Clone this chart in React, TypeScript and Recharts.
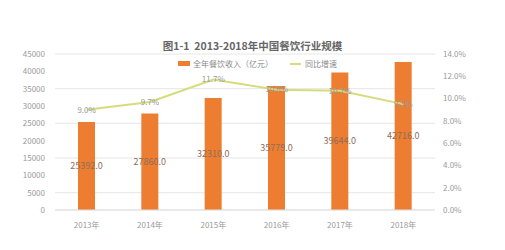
import React from "react";
import { Bar, CartesianGrid, ComposedChart, LabelList, Line, XAxis, YAxis } from "recharts";

const years = ["2013年", "2014年", "2015年", "2016年", "2017年", "2018年"];
const revenue = [25392.0, 27860.0, 32310.0, 35779.0, 39644.0, 42716.0];
const growth = [9.0, 9.7, 11.7, 10.8, 10.7, 9.5];
const leftTicks = [0, 5000, 10000, 15000, 20000, 25000, 30000, 35000, 40000, 45000];
const rightTicks = [0, 2, 4, 6, 8, 10, 12, 14];

const data = years.map((year, i) => ({ year, revenue: revenue[i], growth: growth[i] }));

const font = "'Noto Sans CJK SC', 'Noto Sans', sans-serif";
const tickStyle = { fontSize: 8, fill: "#9a9a9a", fontFamily: font };

export default function App() {
  return (
    <div style={{ position: "absolute", left: 0, top: 0, width: 505, height: 250, background: "#fff", fontFamily: font }}>
      <div style={{ position: "absolute", top: 38, left: 0, width: 505, textAlign: "center", fontSize: 10.5, fontWeight: 600, color: "#666" }}>
        图1-1&nbsp;&nbsp;2013-2018年中国餐饮行业规模
      </div>
      <div style={{ position: "absolute", top: 58, left: 178, display: "flex", alignItems: "center", fontSize: 8, color: "#8a8a8a", zIndex: 2 }}>
        <span style={{ display: "inline-block", width: 12, height: 5, background: "#ED7D31", marginRight: 3 }} />
        <span>全年餐饮收入（亿元）</span>
        <span style={{ display: "inline-block", width: 11, height: 2, background: "#d6dc7c", marginLeft: 17, marginRight: 4 }} />
        <span>同比增速</span>
      </div>
      <ComposedChart width={505} height={250} data={data} margin={{ top: 54, right: 0, bottom: 20, left: 0 }}>
        <CartesianGrid yAxisId="left" vertical={false} stroke="#e6e6e6" />
        <XAxis dataKey="year" axisLine={{ stroke: "#e0e0e0" }} tickLine={false} tick={tickStyle} height={20} tickMargin={6} />
        <YAxis yAxisId="left" width={55} domain={[0, 45000]} ticks={leftTicks} axisLine={false} tickLine={false} tick={tickStyle} tickMargin={4} />
        <YAxis
          yAxisId="right"
          orientation="right"
          width={70}
          domain={[0, 14]}
          ticks={rightTicks}
          axisLine={false}
          tickLine={false}
          tick={tickStyle}
          tickMargin={2}
          tickFormatter={(v: number) => `${v.toFixed(1)}%`}
        />
        <Bar yAxisId="left" dataKey="revenue" fill="#ED7D31" barSize={17} isAnimationActive={false}>
          <LabelList dataKey="revenue" position="center" fill="#8f6e58" fontSize={9} fontFamily={font} formatter={(v: number) => v.toFixed(1)} />
        </Bar>
        <Line yAxisId="right" dataKey="growth" stroke="#d6dc7c" strokeWidth={2} dot={false} isAnimationActive={false}>
          <LabelList dataKey="growth" position="center" fill="#9a9a9a" fontSize={8} fontFamily={font} formatter={(v: number) => `${v.toFixed(1)}%`} />
        </Line>
      </ComposedChart>
    </div>
  );
}
